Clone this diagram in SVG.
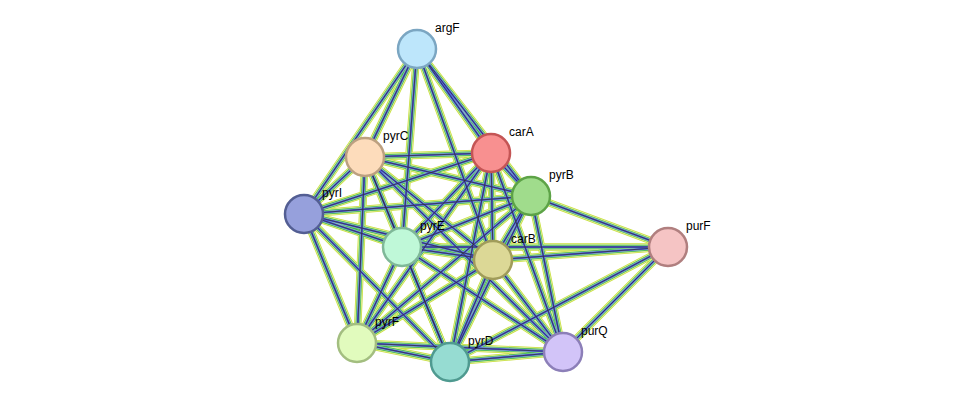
<svg xmlns="http://www.w3.org/2000/svg" xmlns:xlink="http://www.w3.org/1999/xlink" width="976" height="408" viewBox="0 0 976 408">
<style>
.n{stroke-width:2.5}
.t{font-family:"Liberation Sans",Arial,sans-serif;font-size:12px;fill:#000}
.e path{fill:none}
</style>
<defs>
<g id="E">
<path d="M417,49L365,157M417,49L491,153M417,49L304,214M417,49L402,247M417,49L493,260M417,49L531,196"/>
<path d="M491,153L365,157M491,153L531,196M491,153L304,214M491,153L402,247M491,153L493,260M491,153L357,343M491,153L450,362M491,153L563,352"/>
<path d="M365,157L531,196M365,157L304,214M365,157L402,247M365,157L493,260M365,157L357,343M365,157L450,362M365,157L563,352"/>
<path d="M531,196L304,214M531,196L402,247M531,196L493,260M531,196L357,343M531,196L450,362M531,196L563,352M531,196L668,247"/>
<path d="M304,214L402,247M304,214L493,260M304,214L357,343M304,214L450,362"/>
<path d="M402,247L493,260M402,247L357,343M402,247L450,362M402,247L563,352M402,247L668,247"/>
<path d="M493,260L357,343M493,260L450,362M493,260L563,352M493,260L668,247"/>
<path d="M668,247L450,362M668,247L563,352"/>
<path d="M357,343L450,362M357,343L563,352M450,362L563,352"/>
</g>
</defs>
<rect width="976" height="408" fill="#fff"/>
<g id="connectors" class="e">
<use xlink:href="#E" stroke="#c8e040" stroke-width="7.5"/>
<use xlink:href="#E" stroke="#fff" stroke-width="6" opacity="0.5"/>
<use xlink:href="#E" stroke="#3cb44b" stroke-width="4.5"/>
<use xlink:href="#E" stroke="#fff" stroke-width="3.2" opacity="0.5"/>
<use xlink:href="#E" stroke="#4a5ae8" stroke-width="2.2"/>
<use xlink:href="#E" stroke="#333" stroke-width="0.8"/>
</g>
<g id="argF"><circle class="n" cx="417" cy="49" r="19" fill="#bde6fb" stroke="#7ba6c2"/><text class="t" x="435" y="32">argF</text></g>
<g id="carA"><circle class="n" cx="491" cy="153" r="19" fill="#f89090" stroke="#c45555"/><text class="t" x="509" y="136">carA</text></g>
<g id="pyrC"><circle class="n" cx="365" cy="157" r="19" fill="#fddcbb" stroke="#bca080"/><text class="t" x="383" y="140">pyrC</text></g>
<g id="pyrB"><circle class="n" cx="531" cy="196" r="19" fill="#a0dc8c" stroke="#5da347"/><text class="t" x="549" y="179">pyrB</text></g>
<g id="pyrI"><circle class="n" cx="304" cy="214" r="19" fill="#96a0dc" stroke="#535e93"/><text class="t" x="322" y="197">pyrI</text></g>
<g id="pyrE"><circle class="n" cx="402" cy="247" r="19" fill="#bff8d8" stroke="#7fb898"/><text class="t" x="420" y="230">pyrE</text></g>
<g id="carB"><circle class="n" cx="493" cy="260" r="19" fill="#dcd896" stroke="#a09c5a"/><text class="t" x="511" y="243">carB</text></g>
<g id="purF"><circle class="n" cx="668" cy="247" r="19" fill="#f5c4c4" stroke="#b07f7f"/><text class="t" x="686" y="230">purF</text></g>
<g id="pyrF"><circle class="n" cx="357" cy="343" r="19" fill="#e1fbbd" stroke="#a3be80"/><text class="t" x="375" y="326">pyrF</text></g>
<g id="pyrD"><circle class="n" cx="450" cy="362" r="19" fill="#96dcd2" stroke="#4f9a90"/><text class="t" x="468" y="345">pyrD</text></g>
<g id="purQ"><circle class="n" cx="563" cy="352" r="19" fill="#d2c4f8" stroke="#8c7fb8"/><text class="t" x="581" y="335">purQ</text></g>
</svg>
